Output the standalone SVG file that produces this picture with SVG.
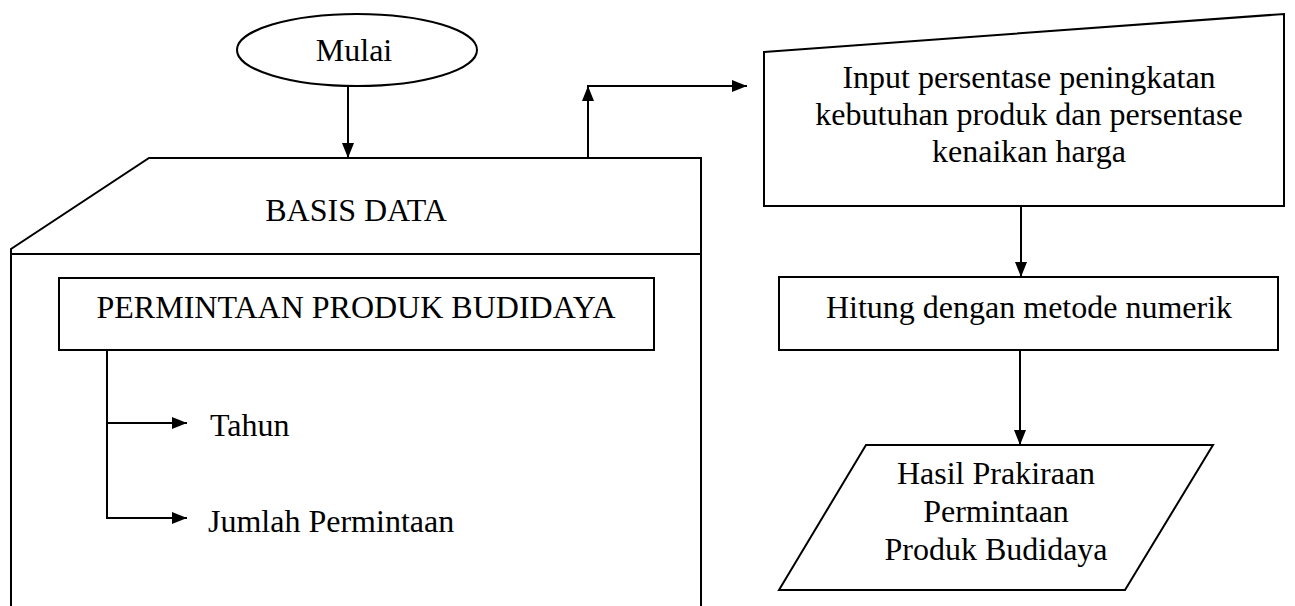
<svg xmlns="http://www.w3.org/2000/svg" width="1295" height="606" viewBox="0 0 1295 606">
  <style>
    .shape { fill: none; stroke: #000; stroke-width: 2; }
    .line { fill: none; stroke: #000; stroke-width: 2; }
    text { font-family: "Liberation Serif", "Times New Roman", serif; font-size: 32px; fill: #000; }
    .c { text-anchor: middle; }
  </style>
  <defs>
    <marker id="arrow" viewBox="0 0 15 12" refX="15" refY="6" markerWidth="15" markerHeight="12" markerUnits="userSpaceOnUse" orient="auto">
      <path d="M0,0 L15,6 L0,12 Z" fill="#000"/>
    </marker>
  </defs>
  <rect width="1295" height="606" fill="#fff"/>

  <g id="mulai">
    <ellipse class="shape" cx="357" cy="50" rx="120" ry="36"/>
    <text class="c" x="354" y="61">Mulai</text>
  </g>

  <g id="basis-data">
    <path class="shape" d="M11,606 L11,249 L149,158 L701,158 L701,606"/>
    <line class="line" x1="11" y1="254" x2="701" y2="254"/>
    <text class="c" x="356" y="221">BASIS DATA</text>
  </g>

  <g id="permintaan">
    <rect class="shape" x="59" y="278" width="595" height="72"/>
    <text class="c" x="356" y="318">PERMINTAAN PRODUK BUDIDAYA</text>
  </g>

  <g id="tahun">
    <text x="210" y="436">Tahun</text>
  </g>

  <g id="jumlah">
    <text x="208" y="532">Jumlah Permintaan</text>
  </g>

  <g id="input">
    <path class="shape" d="M764,52 L1284,14 L1284,206 L764,206 Z"/>
    <text class="c" x="1029" y="88">Input persentase peningkatan</text>
    <text class="c" x="1029" y="125">kebutuhan produk dan persentase</text>
    <text class="c" x="1029" y="162">kenaikan harga</text>
  </g>

  <g id="hitung">
    <rect class="shape" x="779" y="277" width="499" height="73"/>
    <text class="c" x="1029" y="318">Hitung dengan metode numerik</text>
  </g>

  <g id="hasil">
    <path class="shape" d="M866,445 L1213,445 L1125,590 L779,590 Z"/>
    <text class="c" x="996" y="484">Hasil Prakiraan</text>
    <text class="c" x="996" y="522">Permintaan</text>
    <text class="c" x="996" y="560">Produk Budidaya</text>
  </g>

  <g id="connectors">
    <line class="line" x1="348" y1="86" x2="348" y2="158" marker-end="url(#arrow)"/>
    <polyline class="line" points="588,158 588,86" marker-end="url(#arrow)"/>
    <line class="line" x1="587" y1="86" x2="747" y2="86" marker-end="url(#arrow)"/>
    <line class="line" x1="1021" y1="206" x2="1021" y2="277" marker-end="url(#arrow)"/>
    <line class="line" x1="1020" y1="350" x2="1020" y2="445" marker-end="url(#arrow)"/>
    <polyline class="line" points="107,350 107,518 187,518" marker-end="url(#arrow)"/>
    <line class="line" x1="107" y1="423" x2="187" y2="423" marker-end="url(#arrow)"/>
  </g>
</svg>
